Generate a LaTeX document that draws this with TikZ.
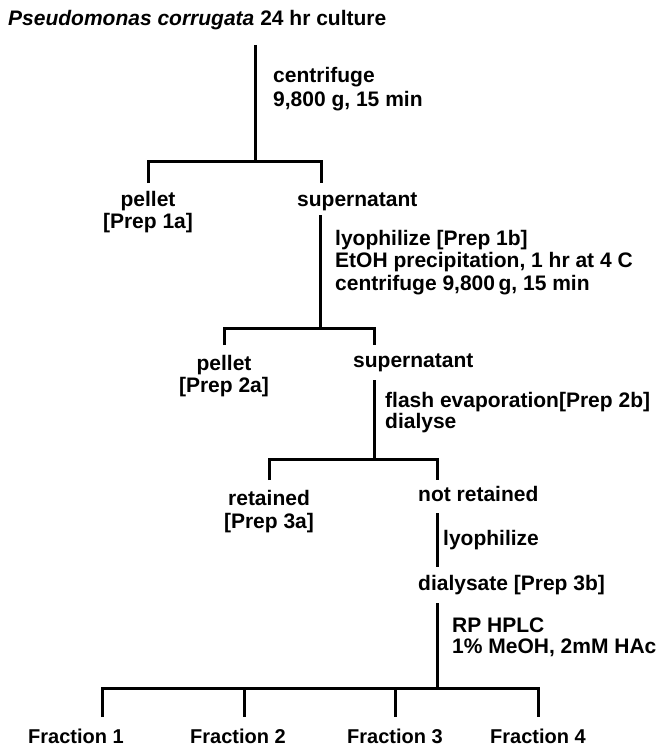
\documentclass[tikz,border=0pt]{standalone}
\usepackage{fontspec}
\setmainfont{Liberation Sans}
\begin{document}
\begin{tikzpicture}[x=1pt,y=-1pt,
  lbl/.style={inner sep=0pt,anchor=base west,font=\bfseries\fontsize{21}{22.5}\selectfont,align=left},
  ctr/.style={inner sep=0pt,anchor=base,font=\bfseries\fontsize{21}{22}\selectfont,align=center},
  frac/.style={inner sep=0pt,anchor=base west,font=\bfseries\fontsize{20}{22}\selectfont},
  tree/.style={line width=3pt,line cap=butt,line join=miter}]
\useasboundingbox (0,0) rectangle (660,746);
% text (multi-line nodes are placed at the baseline of their last line)
\node[lbl] (title) at (8,26) {\textit{Pseudomonas corrugata} 24 hr culture};
\node[lbl,font=\bfseries\fontsize{21}{24}\selectfont] (s1) at (273,107) {centrifuge\\9,800 g, 15 min};
\node[ctr] (pel1) at (148,228) {pellet\\{}[Prep 1a]};
\node[lbl] (sup1) at (297,206) {supernatant};
\node[lbl] (s2) at (335,290) {lyophilize [Prep 1b]\\EtOH precipitation, 1 hr at 4 C\\centrifuge 9,800\,g, 15 min};
\node[ctr] (pel2) at (224,392) {pellet\\{}[Prep 2a]};
\node[lbl] (sup2) at (353,367) {supernatant};
\node[lbl,font=\bfseries\fontsize{21}{21}\selectfont] (s3) at (385,428) {flash evaporation[Prep 2b]\\dialyse};
\node[ctr,font=\bfseries\fontsize{21}{23}\selectfont] (ret) at (269,528) {retained\\{}[Prep 3a]};
\node[lbl] (nret) at (418,501) {not retained};
\node[lbl] (s4) at (443,545) {lyophilize};
\node[lbl] (dia) at (418,590) {dialysate [Prep 3b]};
\node[lbl,font=\bfseries\fontsize{21}{21}\selectfont] (s5) at (452,653) {RP HPLC\\1\% MeOH, 2mM HAc};
\node[frac] (f1) at (28,743) {Fraction 1};
\node[frac] (f2) at (190,743) {Fraction 2};
\node[frac] (f3) at (347,743) {Fraction 3};
\node[frac] (f4) at (490,743) {Fraction 4};
% junction coordinates
\coordinate (a0) at (255,45);  \coordinate (a1) at (255,162);
\coordinate (a1l) at (148,162); \coordinate (a1r) at (321,162);
\coordinate (a2l) at (148,183); \coordinate (a2r) at (321,183);
\coordinate (b0) at (320,215);  \coordinate (b1) at (320,328);
\coordinate (b1l) at (224,328); \coordinate (b1r) at (374,328);
\coordinate (b2l) at (224,345); \coordinate (b2r) at (374,345);
\coordinate (c0) at (374,380);  \coordinate (c1) at (374,459);
\coordinate (c1l) at (269,459); \coordinate (c1r) at (437,459);
\coordinate (c2l) at (269,480); \coordinate (c2r) at (437,480);
\coordinate (d0) at (437,513);  \coordinate (d1) at (437,567);
\coordinate (e0) at (437,603);  \coordinate (e1) at (437,688);
\coordinate (e1a) at (102,688); \coordinate (e1b) at (244,688);
\coordinate (e1c) at (395,688); \coordinate (e1d) at (538,688);
\coordinate (e2a) at (102,717); \coordinate (e2b) at (244,717);
\coordinate (e2c) at (395,717); \coordinate (e2d) at (538,717);
% connectors
\draw[tree] (a0) -- (a1);
\draw[tree] (a2l) -- (a1l) -- (a1r) -- (a2r);
\draw[tree] (b0) -- (b1);
\draw[tree] (b2l) -- (b1l) -- (b1r) -- (b2r);
\draw[tree] (c0) -- (c1);
\draw[tree] (c2l) -- (c1l) -- (c1r) -- (c2r);
\draw[tree] (d0) -- (d1);
\draw[tree] (e0) -- (e1);
\draw[tree] (e2a) -- (e1a) -- (e1d) -- (e2d);
\draw[tree] (e1b) -- (e2b);
\draw[tree] (e1c) -- (e2c);
\end{tikzpicture}
\end{document}
